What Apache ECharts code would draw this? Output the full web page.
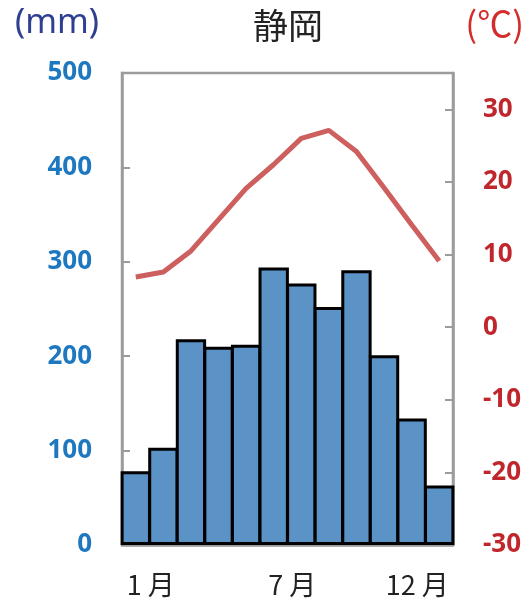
<!DOCTYPE html>
<html>
<head>
<meta charset="utf-8">
<script src="https://cdn.jsdelivr.net/npm/echarts@6/dist/echarts.min.js"></script>
<style>
html,body{margin:0;padding:0;background:#fff;}
#chart{width:529px;height:601px;}
</style>
</head>
<body>
<div id="chart"></div>
<script>
const months = ['1 月','2 月','3 月','4 月','5 月','6 月','7 月','8 月','9 月','10 月','11 月','12 月'];
const precipitation = [78, 103, 218, 210, 212, 294, 277, 252, 291, 201, 134, 63];
const temperature = [6.9, 7.6, 10.5, 14.8, 19.1, 22.4, 26.0, 27.1, 24.2, 19.2, 14.1, 9.1];
const shownMonthIdx = [0, 6, 11];
const titleText = '静岡';
const leftUnit = '(mm)';
const rightUnit = '(℃)';

const chart = echarts.init(document.getElementById('chart'));
const gray = '#9b9b9b';
const labelRich = {
  a: {fontSize: 27, color: '#222', fontFamily: 'Noto Sans CJK JP', padding: [0, 0, 0, 30]},
  b: {fontSize: 27, color: '#222', fontFamily: 'Noto Sans CJK JP', padding: [0, 18, 0, 0]},
  c: {fontSize: 27, color: '#222', fontFamily: 'Noto Sans CJK JP', padding: [0, 44, 0, 0]}
};
const styleKey = ['a', 'b', 'c'];
chart.setOption({
  animation: false,
  title: [
    {text: titleText, left: 283, top: 3, textAlign: 'center',
     textStyle: {fontSize: 35, fontWeight: 'normal', color: '#222', fontFamily: 'Noto Sans CJK JP'}},
    {text: leftUnit, left: 10, top: 1,
     textStyle: {fontSize: 34, fontWeight: 'normal', color: '#2e3f92', fontFamily: 'Noto Sans'}},
    {text: rightUnit, right: 0, top: 1,
     textStyle: {fontSize: 35, fontWeight: 'normal', color: '#d42b2b', fontFamily: 'Noto Sans CJK JP'}}
  ],
  grid: {left: 122, right: 76, top: 73, bottom: 56, show: true, borderColor: gray, borderWidth: 2.5, backgroundColor: 'transparent'},
  xAxis: {
    type: 'category',
    data: months,
    axisLine: {lineStyle: {color: gray, width: 2.5}},
    axisTick: {show: false},
    axisLabel: {
      interval: (i) => shownMonthIdx.includes(i),
      margin: 26,
      formatter: (v, i) => {
        const k = shownMonthIdx.indexOf(i);
        return '{' + styleKey[k] + '|' + v + '}';
      },
      rich: labelRich
    }
  },
  yAxis: [
    {
      type: 'value', min: 0, max: 500, interval: 100, position: 'left',
      axisLine: {show: true, lineStyle: {color: gray, width: 2.5}},
      axisTick: {show: true, inside: true, length: 8, lineStyle: {color: gray, width: 2}},
      splitLine: {show: false},
      axisLabel: {color: '#1e78c0', fontSize: 26, fontWeight: 'bold', fontFamily: 'Noto Sans', margin: 30}
    },
    {
      type: 'value', min: -30, max: 35, interval: 10, position: 'right',
      axisLine: {show: true, lineStyle: {color: gray, width: 2.5}},
      axisTick: {show: true, inside: true, length: 8, lineStyle: {color: gray, width: 2}},
      splitLine: {show: false},
      axisLabel: {color: '#c0272d', fontSize: 26, fontWeight: 'bold', fontFamily: 'Noto Sans', margin: 30, showMaxLabel: false}
    }
  ],
  series: [
    {
      type: 'bar', data: precipitation, yAxisIndex: 0,
      barWidth: '110%',
      itemStyle: {color: '#5b93c7', borderColor: '#000', borderWidth: 3}
    },
    {
      type: 'line', data: temperature, yAxisIndex: 1,
      symbol: 'none', smooth: false,
      lineStyle: {color: '#cd5f5f', width: 5}
    }
  ]
});
</script>
</body>
</html>
